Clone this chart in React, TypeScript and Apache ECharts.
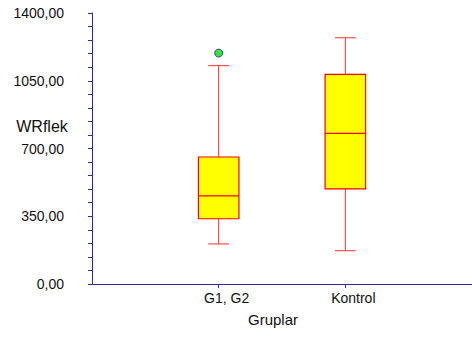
import React, { useEffect, useRef } from "react";
import * as echarts from "echarts";

const categories = ["", "G1, G2", "Kontrol", ""];
const groupIndex = [1, 2];
const mins = [207, 172];
const q1s = [337, 491];
const medians = [455, 778];
const q3s = [656, 1083];
const maxs = [1128, 1272];
const outliers: [number, number][] = [[1, 1193]];
const yTicks = [0, 350, 700, 1050, 1400];

const AXIS = "#2c2c9c";
const FONT = "'Liberation Sans', Arial, sans-serif";

export default function App() {
  const ref = useRef<HTMLDivElement>(null);
  useEffect(() => {
    const chart = echarts.init(ref.current!, null, { renderer: "svg" });
    const boxData = groupIndex.map((g, i) => [g, mins[i], q1s[i], medians[i], q3s[i], maxs[i]]);
    chart.setOption({
      animation: false,
      backgroundColor: "#ffffff",
      textStyle: { fontFamily: FONT },
      grid: { left: 92, right: 0, top: 13, bottom: 53 },
      xAxis: {
        type: "category",
        data: categories,
        boundaryGap: false,
        axisLine: { lineStyle: { color: AXIS, width: 1 } },
        axisTick: {
          length: 4,
          interval: (i: number) => i === 1 || i === 2,
          lineStyle: { color: AXIS },
        },
        axisLabel: {
          interval: (i: number) => i === 1 || i === 2,
          color: "#111",
          fontSize: 14,
          fontFamily: FONT,
          margin: 7,
          padding: [0, 0, 0, 16],
        },
        splitLine: { show: false },
      },
      yAxis: {
        type: "value",
        min: yTicks[0],
        max: yTicks[yTicks.length - 1],
        interval: 350,
        axisLine: { show: true, lineStyle: { color: AXIS, width: 1 } },
        axisTick: { show: true, length: 4, lineStyle: { color: AXIS } },
        minorTick: { show: true, splitNumber: 5, length: 4, lineStyle: { color: AXIS } },
        axisLabel: {
          color: "#111",
          fontSize: 14,
          fontFamily: FONT,
          margin: 28,
          formatter: (v: number) => v.toFixed(2).replace(".", ","),
        },
        splitLine: { show: false },
      },
      graphic: [
        {
          type: "text",
          x: 42,
          y: 126,
          style: {
            text: "WRflek",
            fontSize: 16,
            fontFamily: FONT,
            fill: "#111",
            textAlign: "center",
            textVerticalAlign: "middle",
          },
        },
        {
          type: "text",
          x: 273,
          y: 319,
          style: {
            text: "Gruplar",
            fontSize: 15,
            fontFamily: FONT,
            fill: "#111",
            textAlign: "center",
            textVerticalAlign: "middle",
          },
        },
      ],
      series: [
        {
          type: "custom",
          data: boxData,
          encode: { x: 0, y: [1, 2, 3, 4, 5] },
          renderItem: (params: any, api: any) => {
            const x = api.value(0);
            const pMin = api.coord([x, api.value(1)]);
            const pQ1 = api.coord([x, api.value(2)]);
            const pMed = api.coord([x, api.value(3)]);
            const pQ3 = api.coord([x, api.value(4)]);
            const pMax = api.coord([x, api.value(5)]);
            const band = api.size([1, 0])[0];
            const bw = band * 0.32;
            const cw = band * 0.165;
            const cx = pMed[0];
            const red = "#ff0000";
            const wl = { stroke: "#ff3030", lineWidth: 1 };
            return {
              type: "group",
              children: [
                { type: "line", shape: { x1: cx, y1: pMin[1], x2: cx, y2: pQ1[1] }, style: wl },
                { type: "line", shape: { x1: cx, y1: pQ3[1], x2: cx, y2: pMax[1] }, style: wl },
                { type: "line", shape: { x1: cx - cw / 2, y1: pMin[1], x2: cx + cw / 2, y2: pMin[1] }, style: wl },
                { type: "line", shape: { x1: cx - cw / 2, y1: pMax[1], x2: cx + cw / 2, y2: pMax[1] }, style: wl },
                {
                  type: "rect",
                  shape: { x: cx - bw / 2, y: pQ3[1], width: bw, height: pQ1[1] - pQ3[1] },
                  style: { fill: "#ffff00", stroke: red, lineWidth: 1.2 },
                },
                {
                  type: "line",
                  shape: { x1: cx - bw / 2, y1: pMed[1], x2: cx + bw / 2, y2: pMed[1] },
                  style: { stroke: red, lineWidth: 1.2 },
                },
              ],
            };
          },
        },
        {
          type: "scatter",
          data: outliers,
          symbol: "circle",
          symbolSize: 8,
          itemStyle: { color: "#00e000", borderColor: "#20209a", borderWidth: 1 },
        },
      ],
    });
    return () => chart.dispose();
  }, []);
  return (
    <div
      ref={ref}
      style={{ position: "fixed", left: 0, top: 0, width: 472, height: 337, background: "#fff" }}
    />
  );
}
